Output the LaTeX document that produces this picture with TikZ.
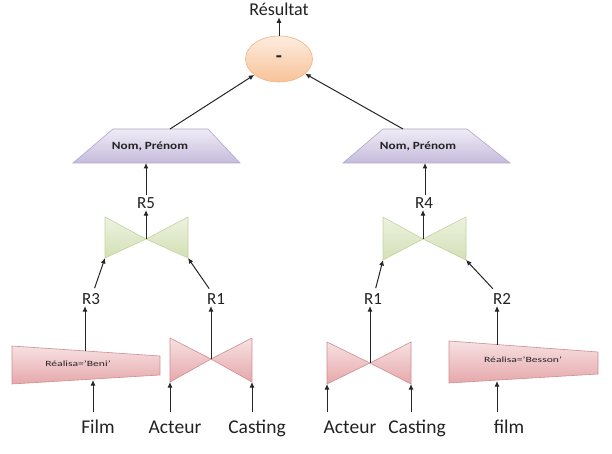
\documentclass[tikz,border=0pt]{standalone}
\usepackage{fontspec}
\setmainfont{Carlito}
\usepackage{graphicx}
\usetikzlibrary{arrows.meta,shapes.geometric}
\definecolor{pinkT}{HTML}{F7E1E2}
\definecolor{pinkB}{HTML}{E6A8AB}
\definecolor{pinkD}{HTML}{CF8E91}
\definecolor{greenT}{HTML}{EDF2E0}
\definecolor{greenB}{HTML}{D3E0B6}
\definecolor{greenD}{HTML}{C2D59C}
\definecolor{purpT}{HTML}{F0ECF6}
\definecolor{purpB}{HTML}{C5BBDC}
\definecolor{purpD}{HTML}{B4A6CC}
\definecolor{peachT}{HTML}{FDEDE0}
\definecolor{peachB}{HTML}{F8C297}
\definecolor{peachD}{HTML}{F2B285}
\definecolor{txt}{HTML}{222222}
\tikzset{
  arr/.style={draw=black!85, line width=1pt, -{Latex[length=5.5pt,width=5pt]}},
  pinkshape/.style={draw=pinkD, line width=0.6pt, top color=pinkT, bottom color=pinkB},
  greenshape/.style={draw=greenD, line width=0.6pt, top color=greenT, bottom color=greenB},
  purpshape/.style={draw=purpD, line width=0.6pt, top color=purpT, bottom color=purpB},
  biglabel/.style={font=\fontsize{19.5}{21}\selectfont, text=txt, inner sep=1pt, anchor=base},
  rlabel/.style={font=\fontsize{17}{18}\selectfont, text=txt, inner sep=1pt, outer sep=1pt, anchor=base},
  smalltxt/.style={font=\fontsize{8}{9}\selectfont, text=txt, inner sep=0pt},
  projtxt/.style={font=\bfseries\fontsize{11}{12}\selectfont, text=txt, inner sep=0pt}
}
\begin{document}
\begin{tikzpicture}[x=1pt,y=-1pt]
\useasboundingbox[fill=white] (0,0) rectangle (612,454);

% ---- difference ellipse
\node[ellipse, draw=peachD, line width=0.6pt, top color=peachT, bottom color=peachB,
      minimum width=67pt, minimum height=46pt, inner sep=0pt,
      font=\bfseries\fontsize{20}{20}\selectfont, text=txt] (diff) at (279,59) {-};
\node[font=\fontsize{18}{20}\selectfont, text=txt, inner sep=1pt, anchor=base] (res) at (279,16) {Résultat};
\draw[arr] (diff.north) -- (res.south);

% ---- projections
\draw[purpshape] (113,129) -- (208,129) -- (240,163) -- (73,163) -- cycle;
\node[projtxt] (pL) at (150,146) {\scalebox{1.2}[1]{Nom, Prénom}};
\coordinate (pLbot) at (146,163);
\draw[purpshape] (383,129) -- (467,129) -- (510,163) -- (343,163) -- cycle;
\node[projtxt] (pR) at (418,146) {\scalebox{1.2}[1]{Nom, Prénom}};
\coordinate (pLin) at (170,129);
\coordinate (pRin) at (403,129);
\coordinate (pRbot) at (425,163);
\draw[arr] (pLin) -- (diff);
\draw[arr] (pRin) -- (diff);

% ---- green joins
\draw[greenshape] (105,217) -- (146,239) -- (105,258) -- cycle;
\draw[greenshape] (188,217) -- (146,239) -- (188,258) -- cycle;
\coordinate (jL) at (146,239);
\coordinate (jLa) at (105,258);
\coordinate (jLb) at (188,258);
\draw[greenshape] (383,217) -- (423,239) -- (383,260) -- cycle;
\draw[greenshape] (466,217) -- (423,239) -- (466,260) -- cycle;
\coordinate (jR) at (423,239);
\coordinate (jRa) at (383,260);
\coordinate (jRb) at (466,260);

\node[rlabel] (r5) at (146,208) {R5};
\node[rlabel] (r4) at (424,208) {R4};
\draw[arr] (jL) -- (r5.south);
\draw[arr] (r5.north) -- (pLbot);
\draw[arr] (jR) -- (jR |- r4.south);
\draw[arr] (pRbot |- r4.north) -- (pRbot);

% ---- middle labels
\node[rlabel] (r3) at (91,304) {R3};
\node[rlabel] (r1a) at (216,304) {R1};
\node[rlabel] (r1b) at (373,304) {R1};
\node[rlabel] (r2) at (502,304) {R2};
\draw[arr, shorten <=3pt] (r3) -- (jLa);
\draw[arr, shorten <=3pt] (r1a) -- (jLb);
\draw[arr, shorten <=3pt] (r1b) -- (jRa);
\draw[arr, shorten <=3pt] (r2) -- (jRb);

% ---- selections
\draw[pinkshape] (12,346) -- (160,356) -- (160,375) -- (12,384) -- cycle;
\node[smalltxt] (sL) at (78,364) {\scalebox{1.45}[1]{Réalisa=’Beni’}};
\coordinate (sLtop) at (85,351);
\coordinate (sLbot) at (93,380);
\draw[pinkshape] (449,341) -- (598,352) -- (598,374) -- (449,383) -- cycle;
\node[smalltxt] (sR) at (523,360) {\scalebox{1.45}[1]{Réalisa=’Besson’}};
\coordinate (sRtop) at (497,345);
\coordinate (sRbot) at (497,381);
\draw[arr] (sLtop) -- (sLtop |- r3.south);
\draw[arr] (sRtop) -- (sRtop |- r2.south);

% ---- pink joins
\draw[pinkshape] (170,338) -- (211,359) -- (170,382) -- cycle;
\draw[pinkshape] (252,338) -- (211,359) -- (252,382) -- cycle;
\coordinate (kL) at (211,359);
\coordinate (kLa) at (170,382);
\coordinate (kLb) at (252,382);
\draw[pinkshape] (327,342) -- (370,363) -- (327,384) -- cycle;
\draw[pinkshape] (411,342) -- (370,363) -- (411,384) -- cycle;
\coordinate (kR) at (370,363);
\coordinate (kRa) at (327,384);
\coordinate (kRb) at (411,384);
\draw[arr] (kL) -- (kL |- r1a.south);
\draw[arr] (kR) -- (kR |- r1b.south);

% ---- base relations
\node[biglabel] (film1) at (98,433) {Film};
\node[biglabel] (act1) at (175,433) {Acteur};
\node[biglabel] (cast1) at (257,433) {Casting};
\node[biglabel] (act2) at (350,433) {Acteur};
\node[biglabel] (cast2) at (417,433) {Casting};
\node[biglabel] (film2) at (509,433) {film};
\coordinate (b1) at (93,412);
\coordinate (b2) at (170,412);
\coordinate (b3) at (252,412);
\coordinate (b4) at (327,412);
\coordinate (b5) at (411,412);
\coordinate (b6) at (497,412);
\draw[arr] (b1) -- (sLbot);
\draw[arr] (b2) -- (kLa);
\draw[arr] (b3) -- (kLb);
\draw[arr] (b4) -- (kRa);
\draw[arr] (b5) -- (kRb);
\draw[arr] (b6) -- (sRbot);
\end{tikzpicture}
\end{document}
